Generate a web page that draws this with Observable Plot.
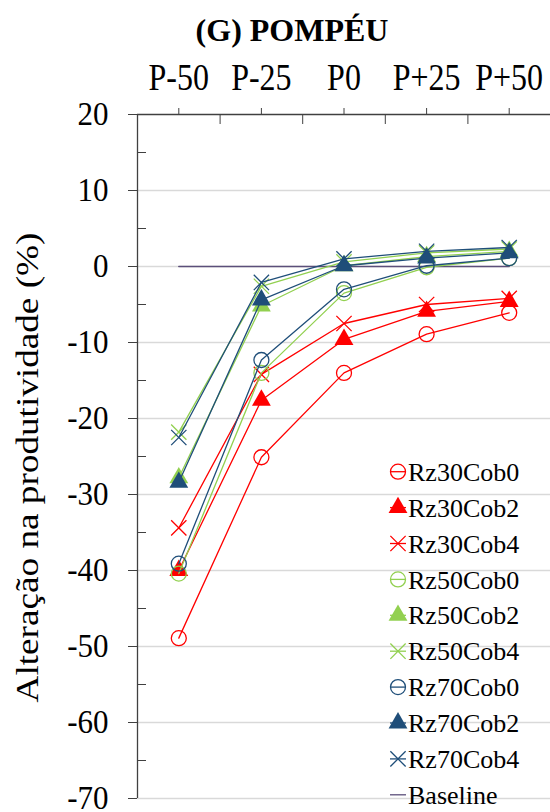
<!DOCTYPE html>
<html><head><meta charset="utf-8">
<script src="https://cdn.jsdelivr.net/npm/d3@7"></script>
<script src="https://cdn.jsdelivr.net/npm/@observablehq/plot@0.6"></script>
<style>
body{margin:0;background:#fff;}
#wrap{position:relative;width:550px;height:812px;font-family:"Liberation Serif","Times New Roman",serif;overflow:hidden;}
#title{position:absolute;left:292px;top:14px;transform:translateX(-50%);font-size:32px;font-weight:bold;line-height:32px;white-space:nowrap;color:#000;}
#chart{position:absolute;left:0;top:50px;}
svg text{font-family:"Liberation Serif","Times New Roman",serif !important;}
</style></head><body>
<div id="wrap"><div id="title">(G) POMPÉU</div><div id="chart"></div></div>
<script>
const FONT = '"Liberation Serif","Times New Roman",serif';
const categories = ["P-50", "P-25", "P0", "P+25", "P+50"];
const yTicks = [20, 10, 0, -10, -20, -30, -40, -50, -60, -70];
const yMinorTicks = [15, 5, -5, -15, -25, -35, -45, -55, -65];
const gridValues = [10, 0, -10, -20, -30, -40, -50, -60, -70];
const yTitle = "Alteração na produtividade (%)";

const seriesNames = ["Rz30Cob0", "Rz30Cob2", "Rz30Cob4", "Rz50Cob0", "Rz50Cob2", "Rz50Cob4", "Rz70Cob0", "Rz70Cob2", "Rz70Cob4"];
const Rz30Cob0 = [-48.9, -25.1, -14.0, -8.9, -6.1];
const Rz30Cob2 = [-40.0, -17.6, -9.6, -5.9, -4.6];
const Rz30Cob4 = [-34.4, -14.2, -7.5, -5.0, -4.2];
const Rz50Cob0 = [-40.4, -14.0, -3.5, -0.1, 1.1];
const Rz50Cob2 = [-27.8, -5.2, 0.1, 1.3, 2.0];
const Rz50Cob4 = [-21.8, -2.6, 0.6, 1.8, 2.3];
const Rz70Cob0 = [-39.1, -12.3, -3.0, 0.1, 1.1];
const Rz70Cob2 = [-28.4, -4.4, 0.1, 1.1, 1.8];
const Rz70Cob4 = [-22.5, -2.1, 1.0, 2.0, 2.5];
const baselineValues = [0, 0, 0, 0, 0];
const seriesValues = [Rz30Cob0, Rz30Cob2, Rz30Cob4, Rz50Cob0, Rz50Cob2, Rz50Cob4, Rz70Cob0, Rz70Cob2, Rz70Cob4];
const seriesColors = ["#ff0000", "#ff0000", "#ff0000", "#92d050", "#92d050", "#92d050", "#1f4e79", "#1f4e79", "#1f4e79"];
const seriesSymbols = ["circle", "triangle", "times", "circle", "triangle", "times", "circle", "triangle", "times"];
const baselineName = "Baseline";
const baselineColor = "#5b4f7a";

const idx = categories.map((_, i) => i);
const bounds = [0.5, 1.5, 2.5, 3.5];

function markerOpts(sym, color) {
  if (sym === "circle") return {symbol: "circle", r: 7.5, fill: "none", stroke: color, strokeWidth: 1.3};
  if (sym === "triangle") return {symbol: "triangle", r: 7, fill: color, stroke: "none"};
  return {symbol: "times", r: 7, fill: "none", stroke: color, strokeWidth: 1.3};
}

const seriesMarks = seriesNames.flatMap((name, s) => {
  const data = seriesValues[s].map((v, i) => ({i, v}));
  return [
    Plot.line(data, {x: "i", y: "v", stroke: seriesColors[s], strokeWidth: 1.3}),
    Plot.dot(data, {x: "i", y: "v", ...markerOpts(seriesSymbols[s], seriesColors[s])})
  ];
});
const baseData = baselineValues.map((v, i) => ({i, v}));

const svg = Plot.plot({
  width: 550, height: 762,
  marginTop: 64, marginBottom: 14, marginLeft: 137, marginRight: 0,
  style: {fontFamily: FONT, fontSize: "31px", color: "#000", background: "transparent", overflow: "visible"},
  x: {type: "linear", domain: [-0.5, 4.5]},
  y: {domain: [-70, 20]},
  marks: [
    Plot.ruleY(gridValues, {stroke: "#d9d9d9", strokeWidth: 1.5}),
    Plot.line(baseData, {x: "i", y: "v", stroke: baselineColor, strokeWidth: 1.5}),
    ...seriesMarks,
    Plot.ruleX([-0.5], {stroke: "#404040", strokeWidth: 1.3}),
    Plot.ruleY([20], {stroke: "#404040", strokeWidth: 1.3}),
    Plot.axisX({ticks: idx, anchor: "top", tickSize: 7, tickPadding: 20, tickFormat: i => categories[i], fontSize: 32, fill: "#000", stroke: "#404040", label: null}),
    Plot.axisX({ticks: bounds, anchor: "bottom", frameAnchor: "top", tickSize: 10, tickFormat: () => "", stroke: "#404040", label: null}),
    Plot.axisY({ticks: yTicks, anchor: "left", tickSize: 9, tickPadding: 20, tickFormat: d => String(d), fontSize: 31, fill: "#000", stroke: "#404040", label: null}),
    Plot.axisY({ticks: yMinorTicks, anchor: "right", frameAnchor: "left", tickSize: 8, tickFormat: () => "", stroke: "#404040", label: null}),
    Plot.text([yTitle], {text: d => d, frameAnchor: "left", textAnchor: "middle", rotate: -90, dx: -109, dy: 11, fontSize: 31, fontFamily: FONT, fill: "#000"})
  ]
});
document.getElementById("chart").appendChild(svg);
svg.querySelectorAll("text").forEach(t => t.style.fontFamily = FONT);

function stretch(sel, sx, sy) {
  svg.querySelectorAll(sel).forEach(t => {
    const b = t.getBBox();
    const cx = b.x + b.width / 2, cy = b.y + b.height / 2;
    const T = t.getAttribute("transform") || "";
    t.setAttribute("transform", `${T} translate(${cx},${cy}) scale(${sx},${sy}) translate(${-cx},${-cy})`);
  });
}
stretch('g[aria-label="x-axis tick label"] text', 1, 1.2);
stretch('g[aria-label="y-axis tick label"] text', 1, 1.1);
stretch('g[aria-label="text"] text', 1.2, 1);

// legend
const legendItems = seriesNames.map((n, s) => ({name: n, color: seriesColors[s], symbol: seriesSymbols[s]}))
  .concat([{name: baselineName, color: baselineColor, symbol: null}]);
const lg = d3.select(svg).append("g").attr("font-size", 26).attr("text-anchor", "start");
legendItems.forEach((it, k) => {
  const g = lg.append("g").attr("transform", `translate(398,${421.7 + k * 35.9})`);
  g.append("line").attr("x1", -8).attr("x2", 8).attr("stroke", it.color).attr("stroke-width", 1.3);
  if (it.symbol === "circle") {
    g.append("circle").attr("r", 7.5).attr("fill", "none").attr("stroke", it.color).attr("stroke-width", 1.3);
  } else if (it.symbol === "triangle") {
    g.append("path").attr("d", d3.symbol(d3.symbolTriangle, Math.PI * 7 * 7)()).attr("fill", it.color);
  } else if (it.symbol === "times") {
    g.append("path").attr("d", d3.symbol(d3.symbolTimes, Math.PI * 49)()).attr("fill", "none").attr("stroke", it.color).attr("stroke-width", 1.3);
  }
  g.append("text").attr("x", 10).attr("dy", "0.35em").attr("text-anchor", "start").attr("fill", "#000")
    .style("font-family", FONT).text(it.name);
});
</script>
</body></html>
